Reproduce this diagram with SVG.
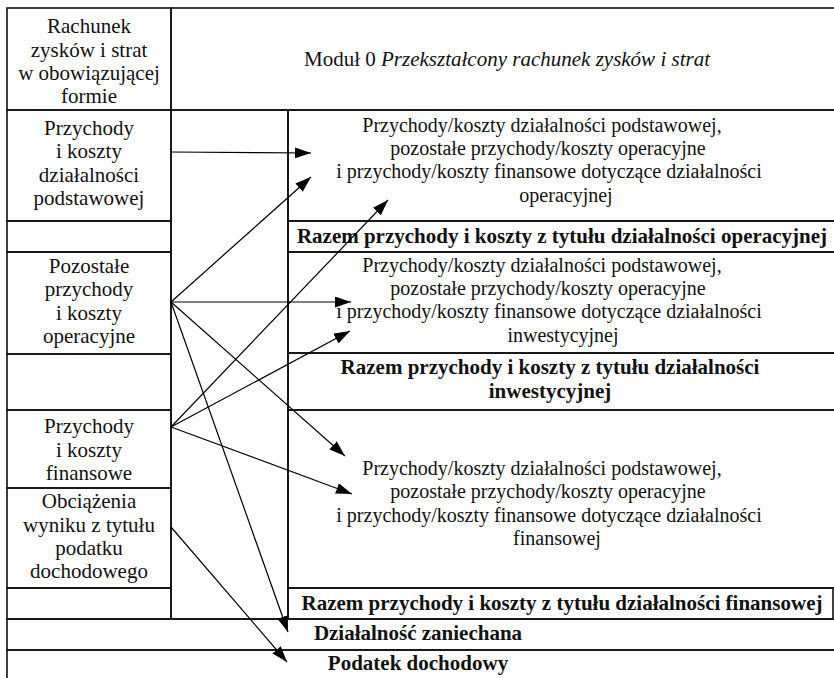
<svg xmlns="http://www.w3.org/2000/svg" width="834" height="678" viewBox="0 0 834 678">
<style>
.c{fill:none;stroke:#111;stroke-width:1.6}
.t{font-family:"Liberation Serif","Times New Roman",serif;font-size:21px;fill:#111;text-anchor:middle}
.r{font-size:20px}
.b{font-weight:bold;font-size:21px}
.i{font-style:italic}
.a{stroke:#000;stroke-width:1.2;fill:none;marker-end:url(#ah)}
</style>
<defs>
<marker id="ah" markerUnits="userSpaceOnUse" markerWidth="17" markerHeight="12" refX="16" refY="5.5" orient="auto">
<path d="M0,0 L16,5.5 L0,11 z" fill="#000"/>
</marker>
</defs>
<rect width="834" height="678" fill="#fff"/>
<g id="header-left">
<rect class="c" x="7" y="8" width="164" height="102"/>
<text class="t" x="89" y="33">Rachunek</text>
<text class="t" x="89" y="57">zysków i strat</text>
<text class="t" x="89" y="80">w obowiązującej</text>
<text class="t" x="89" y="103">formie</text>
</g>
<g id="header-right">
<rect class="c" x="171" y="8" width="666" height="102"/>
<text class="t" x="507" y="66">Moduł 0 <tspan class="i">Przekształcony rachunek zysków i strat</tspan></text>
</g>
<g id="left-podstawowa">
<rect class="c" x="7" y="110" width="164" height="111"/>
<text class="t" x="89" y="135">Przychody</text>
<text class="t" x="89" y="158">i koszty</text>
<text class="t" x="89" y="182">działalności</text>
<text class="t" x="89" y="205">podstawowej</text>
</g>
<g id="left-empty1"><rect class="c" x="7" y="221" width="164" height="31"/></g>
<g id="left-pozostale">
<rect class="c" x="7" y="252" width="164" height="102"/>
<text class="t" x="89" y="273">Pozostałe</text>
<text class="t" x="89" y="296">przychody</text>
<text class="t" x="89" y="320">i koszty</text>
<text class="t" x="89" y="343">operacyjne</text>
</g>
<g id="left-empty2"><rect class="c" x="7" y="354" width="164" height="56"/></g>
<g id="left-finansowe">
<rect class="c" x="7" y="410" width="164" height="78"/>
<text class="t" x="89" y="433">Przychody</text>
<text class="t" x="89" y="457">i koszty</text>
<text class="t" x="89" y="480">finansowe</text>
</g>
<g id="left-podatek">
<rect class="c" x="7" y="488" width="164" height="100"/>
<text class="t" x="89" y="508">Obciążenia</text>
<text class="t" x="89" y="532">wyniku z tytułu</text>
<text class="t" x="89" y="555">podatku</text>
<text class="t" x="89" y="578">dochodowego</text>
</g>
<g id="left-empty3"><rect class="c" x="7" y="588" width="164" height="31"/></g>
<g id="middle-column"><rect class="c" x="171" y="110" width="117" height="509"/></g>
<g id="right-operacyjna">
<rect class="c" x="288" y="110" width="549" height="111"/>
<text class="t r" x="542" y="132">Przychody/koszty działalności podstawowej,</text>
<text class="t r" x="548" y="155">pozostałe przychody/koszty operacyjne</text>
<text class="t r" x="549" y="178">i przychody/koszty finansowe dotyczące działalności</text>
<text class="t r" x="566" y="202">operacyjnej</text>
</g>
<g id="razem-operacyjna">
<rect class="c" x="288" y="221" width="549" height="31"/>
<text class="t b" x="562" y="243">Razem przychody i koszty z tytułu działalności operacyjnej</text>
</g>
<g id="right-inwestycyjna">
<rect class="c" x="288" y="252" width="549" height="101"/>
<text class="t r" x="542" y="272">Przychody/koszty działalności podstawowej,</text>
<text class="t r" x="548" y="295">pozostałe przychody/koszty operacyjne</text>
<text class="t r" x="549" y="318">i przychody/koszty finansowe dotyczące działalności</text>
<text class="t r" x="563" y="342">inwestycyjnej</text>
</g>
<g id="razem-inwestycyjna">
<rect class="c" x="288" y="353" width="549" height="57"/>
<text class="t b" x="550" y="374">Razem przychody i koszty z tytułu działalności</text>
<text class="t b" x="550" y="398">inwestycyjnej</text>
</g>
<g id="right-finansowa">
<rect class="c" x="288" y="410" width="549" height="178"/>
<text class="t r" x="542" y="475">Przychody/koszty działalności podstawowej,</text>
<text class="t r" x="548" y="498">pozostałe przychody/koszty operacyjne</text>
<text class="t r" x="549" y="522">i przychody/koszty finansowe dotyczące działalności</text>
<text class="t r" x="557" y="545">finansowej</text>
</g>
<g id="razem-finansowa">
<rect class="c" x="288" y="588" width="545" height="31"/>
<text class="t b" x="562" y="610">Razem przychody i koszty z tytułu działalności finansowej</text>
</g>
<g id="zaniechana">
<rect class="c" x="7" y="619" width="830" height="31"/>
<text class="t b" x="418" y="640">Działalność zaniechana</text>
</g>
<g id="podatek-dochodowy">
<rect class="c" x="7" y="650" width="830" height="32"/>
<text class="t b" x="418" y="670">Podatek dochodowy</text>
</g>
<g id="connectors">
<line class="a" x1="171" y1="152" x2="311" y2="153"/>
<line class="a" x1="171" y1="302" x2="311" y2="177"/>
<line class="a" x1="171" y1="302" x2="351" y2="302"/>
<line class="a" x1="171" y1="302" x2="345" y2="456"/>
<line class="a" x1="171" y1="302" x2="288" y2="632"/>
<line class="a" x1="171" y1="427" x2="388" y2="200"/>
<line class="a" x1="171" y1="427" x2="350" y2="331"/>
<line class="a" x1="171" y1="427" x2="352" y2="494"/>
<line class="a" x1="171" y1="527" x2="287" y2="662"/>
</g>
</svg>
